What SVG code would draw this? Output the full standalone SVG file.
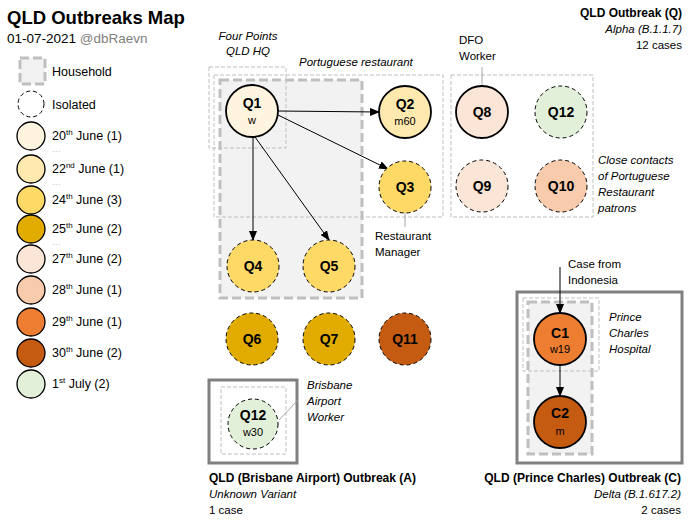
<svg xmlns="http://www.w3.org/2000/svg" width="699" height="527" viewBox="0 0 699 527">
<defs>
<marker id="ah" markerWidth="10" markerHeight="8" refX="9" refY="4" orient="auto" markerUnits="userSpaceOnUse"><path d="M0,0 L10,4 L0,8 z" fill="#000"/></marker>
<style>
text{font-family:"Liberation Sans",Arial,sans-serif;fill:#000}
.t{font-size:11.5px}
.lt{font-size:12.5px}
.i{font-size:11.5px;font-style:italic}
.b{font-size:12px;font-weight:bold}
.nl{font-size:14px;font-weight:bold;text-anchor:middle}
.ns{font-size:11px;text-anchor:middle}
.sup{font-size:8px}
.dots{font-size:8px;fill:#A6A6A6;letter-spacing:0.8px}
.solid{stroke:#000;stroke-width:1.8}
.iso{stroke:#000;stroke-width:1;stroke-dasharray:4,3}
.lg{stroke:#000;stroke-width:1.3}
.hh{fill:#F2F2F2;stroke:#BFBFBF;stroke-width:3;stroke-dasharray:9,4}
.thin{fill:none;stroke:#BFBFBF;stroke-width:1;stroke-dasharray:4,2}
.ob{fill:none;stroke:#808080;stroke-width:3}
.lead{stroke:#A6A6A6;stroke-width:1;fill:none}
.c20{fill:#FFF4DE}.c22{fill:#FFE9AE}.c24{fill:#FFD966}.c25{fill:#E1AB00}.c27{fill:#FBE5D6}.c28{fill:#F8CBAD}.c29{fill:#ED7D31}.c30{fill:#C55A11}.c01{fill:#E2F0D9}
</style>
</defs>
<rect width="699" height="527" fill="#fff"/>

<g id="title">
<text x="7" y="24" style="font-size:18.5px;font-weight:bold">QLD Outbreaks Map</text>
<text x="7" y="43" style="font-size:13.5px">01-07-2021 <tspan fill="#7F7F7F">@dbRaevn</tspan></text>
</g>

<g id="legend">
<rect x="20" y="58" width="25" height="26" class="hh"/>
<text x="52" y="76" class="lt">Household</text>
<circle cx="31" cy="104" r="13" fill="#fff" class="iso"/>
<text x="52" y="109" class="lt">Isolated</text>
<circle cx="31" cy="136" r="14" class="c20 lg"/>
<text x="52" y="140" class="lt">20<tspan class="sup" dy="-5">th</tspan><tspan dy="5"> June (1)</tspan></text>
<text x="52" y="152" class="dots">...</text>
<circle cx="31" cy="169" r="14" class="c22 lg"/>
<text x="52" y="173" class="lt">22<tspan class="sup" dy="-5">nd</tspan><tspan dy="5"> June (1)</tspan></text>
<text x="52" y="185" class="dots">...</text>
<circle cx="31" cy="200" r="14" class="c24 lg"/>
<text x="52" y="204" class="lt">24<tspan class="sup" dy="-5">th</tspan><tspan dy="5"> June (3)</tspan></text>
<circle cx="31" cy="229" r="14" class="c25 lg"/>
<text x="52" y="233" class="lt">25<tspan class="sup" dy="-5">th</tspan><tspan dy="5"> June (2)</tspan></text>
<text x="52" y="245" class="dots">...</text>
<circle cx="31" cy="259" r="14" class="c27 lg"/>
<text x="52" y="263" class="lt">27<tspan class="sup" dy="-5">th</tspan><tspan dy="5"> June (2)</tspan></text>
<circle cx="31" cy="290" r="14" class="c28 lg"/>
<text x="52" y="294" class="lt">28<tspan class="sup" dy="-5">th</tspan><tspan dy="5"> June (1)</tspan></text>
<circle cx="31" cy="322" r="14" class="c29 lg"/>
<text x="52" y="326" class="lt">29<tspan class="sup" dy="-5">th</tspan><tspan dy="5"> June (1)</tspan></text>
<circle cx="31" cy="353" r="14" class="c30 lg"/>
<text x="52" y="357" class="lt">30<tspan class="sup" dy="-5">th</tspan><tspan dy="5"> June (2)</tspan></text>
<circle cx="31" cy="384" r="14" class="c01 lg"/>
<text x="52" y="388" class="lt">1<tspan class="sup" dy="-5">st</tspan><tspan dy="5"> July (2)</tspan></text>
</g>

<g id="groups">
<rect x="220" y="80" width="142" height="218" class="hh"/>
<rect x="209" y="67" width="77" height="81" class="thin"/>
<rect x="214" y="75" width="229" height="142" class="thin"/>
<rect x="451" y="75" width="142" height="142" class="thin"/>
<rect x="209" y="380" width="88" height="83" class="ob"/>
<rect x="221" y="387" width="65" height="67" class="thin"/>
<rect x="517" y="292" width="165" height="171" class="ob"/>
<rect x="528" y="302" width="64" height="152" class="hh"/>
<rect x="523" y="298" width="76" height="73" class="thin"/>
</g>

<g id="labels">
<text x="248" y="40" class="i" text-anchor="middle">Four Points</text>
<text x="248" y="55" class="i" text-anchor="middle">QLD HQ</text>
<text x="299" y="66" class="i">Portuguese restaurant</text>
<text x="459" y="44" class="t">DFO</text>
<text x="459" y="60" class="t">Worker</text>
<text x="375" y="240" class="t">Restaurant</text>
<text x="375" y="256" class="t">Manager</text>
<text x="598" y="164" class="i">Close contacts</text>
<text x="598" y="180" class="i">of Portuguese</text>
<text x="598" y="196" class="i">Restaurant</text>
<text x="598" y="212" class="i">patrons</text>
<text x="682" y="17" class="b" text-anchor="end">QLD Outbreak (Q)</text>
<text x="682" y="33" class="i" text-anchor="end">Alpha (B.1.1.7)</text>
<text x="682" y="49" class="t" text-anchor="end">12 cases</text>
<text x="307" y="389" class="i">Brisbane</text>
<text x="307" y="405" class="i">Airport</text>
<text x="307" y="421" class="i">Worker</text>
<text x="209" y="482" class="b">QLD (Brisbane Airport) Outbreak (A)</text>
<text x="209" y="498" class="i">Unknown Variant</text>
<text x="209" y="514" class="t">1 case</text>
<text x="568" y="268" class="t">Case from</text>
<text x="568" y="284" class="t">Indonesia</text>
<text x="609" y="321" class="i">Prince</text>
<text x="609" y="337" class="i">Charles</text>
<text x="609" y="353" class="i">Hospital</text>
<text x="681" y="482" class="b" text-anchor="end">QLD (Prince Charles) Outbreak (C)</text>
<text x="681" y="498" class="i" text-anchor="end">Delta (B.1.617.2)</text>
<text x="681" y="514" class="t" text-anchor="end">2 cases</text>
</g>

<g id="connectors">
<line x1="405" y1="213" x2="405" y2="227" class="lead"/>
<line x1="482" y1="86" x2="482" y2="67" class="lead"/>
<line x1="279" y1="420" x2="298" y2="400" class="lead"/>
<line x1="278" y1="111" x2="379" y2="112" stroke="#000" stroke-width="1" marker-end="url(#ah)"/>
<line x1="278" y1="115" x2="388" y2="169" stroke="#000" stroke-width="1" marker-end="url(#ah)"/>
<line x1="253" y1="137" x2="253" y2="240" stroke="#000" stroke-width="1" marker-end="url(#ah)"/>
<line x1="255" y1="137" x2="329" y2="240" stroke="#000" stroke-width="1" marker-end="url(#ah)"/>
<line x1="560" y1="267" x2="560" y2="313" stroke="#000" stroke-width="1" marker-end="url(#ah)"/>
<line x1="560" y1="365" x2="560" y2="396" stroke="#000" stroke-width="1" marker-end="url(#ah)"/>
</g>

<g id="Q1"><circle cx="252" cy="111" r="26" class="c20 solid"/><text x="252" y="108" class="nl">Q1</text><text x="252" y="124" class="ns">w</text></g>
<g id="Q2"><circle cx="405" cy="112" r="26" class="c22 solid"/><text x="405" y="109" class="nl">Q2</text><text x="405" y="125" class="ns">m60</text></g>
<g id="Q3"><circle cx="405" cy="187" r="26" class="c24 iso"/><text x="405" y="192" class="nl">Q3</text></g>
<g id="Q4"><circle cx="253" cy="266" r="26" class="c24 iso"/><text x="253" y="271" class="nl">Q4</text></g>
<g id="Q5"><circle cx="329" cy="266" r="26" class="c24 iso"/><text x="329" y="271" class="nl">Q5</text></g>
<g id="Q6"><circle cx="252" cy="339" r="26" class="c25 iso"/><text x="252" y="344" class="nl">Q6</text></g>
<g id="Q7"><circle cx="329" cy="339" r="26" class="c25 iso"/><text x="329" y="344" class="nl">Q7</text></g>
<g id="Q11"><circle cx="405" cy="339" r="26" class="c30 iso"/><text x="405" y="344" class="nl">Q11</text></g>
<g id="Q8"><circle cx="482" cy="112" r="26" class="c27 solid"/><text x="482" y="117" class="nl">Q8</text></g>
<g id="Q12a"><circle cx="561" cy="112" r="26" class="c01 iso"/><text x="561" y="117" class="nl">Q12</text></g>
<g id="Q9"><circle cx="482" cy="186" r="26" class="c27 iso"/><text x="482" y="191" class="nl">Q9</text></g>
<g id="Q10"><circle cx="561" cy="186" r="26" class="c28 iso"/><text x="561" y="191" class="nl">Q10</text></g>
<g id="Q12b"><circle cx="253" cy="424" r="25" class="c01 iso"/><text x="253" y="420" class="nl">Q12</text><text x="253" y="436" class="ns">w30</text></g>
<g id="C1"><circle cx="560" cy="339" r="26" class="c29 solid"/><text x="560" y="338" class="nl">C1</text><text x="560" y="353" class="ns">w19</text></g>
<g id="C2"><circle cx="560" cy="422" r="26" class="c30 solid"/><text x="560" y="418" class="nl">C2</text><text x="560" y="435" class="ns">m</text></g>
</svg>
